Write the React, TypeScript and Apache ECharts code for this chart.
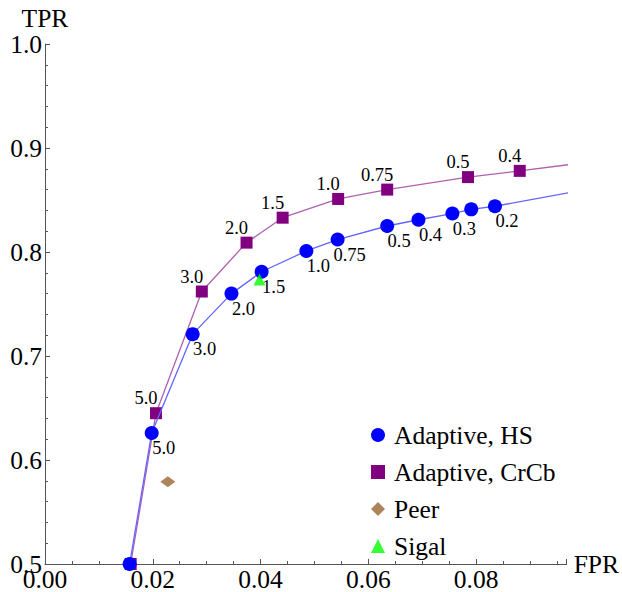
import React, { useEffect, useRef } from "react";
import * as echarts from "echarts";

// Adaptive, HS
const hsFPR = [0.0157, 0.0198, 0.0274, 0.0346, 0.0402, 0.0485, 0.0543, 0.0635, 0.0693, 0.0756, 0.0791, 0.0835, 0.0972];
const hsTPR = [0.500, 0.626, 0.721, 0.760, 0.781, 0.801, 0.812, 0.825, 0.831, 0.837, 0.841, 0.844, 0.857];
const hsLabels = ["", "5.0", "3.0", "2.0", "1.5", "1.0", "0.75", "0.5", "0.4", "0.3", "", "0.2", ""];

// Adaptive, CrCb
const crFPR = [0.0159, 0.0206, 0.0291, 0.0374, 0.0441, 0.0544, 0.0635, 0.0785, 0.0881, 0.0972];
const crTPR = [0.500, 0.645, 0.762, 0.809, 0.833, 0.851, 0.860, 0.872, 0.878, 0.884];
const crLabels = ["", "5.0", "3.0", "2.0", "1.5", "1.0", "0.75", "0.5", "0.4", ""];

// Peer
const peerFPR = [0.0228, 0.0972];
const peerTPR = [0.579, 0.899];

// Sigal
const sigalFPR = [0.0398];
const sigalTPR = [0.7735];

const seriesNames = ["Adaptive, HS", "Adaptive, CrCb", "Peer", "Sigal"];

const FONT = "'Liberation Serif', 'Times New Roman', serif";

export default function App() {
  const ref = useRef<HTMLDivElement>(null);
  useEffect(() => {
    if (!ref.current) return;
    document.body.style.margin = "0";
    const chart = echarts.init(ref.current, undefined, { renderer: "svg" });
    const zip = (xs: number[], ys: number[]) => xs.map((x, i) => [x, ys[i]]);
    const labelStyle = { fontFamily: FONT, fontSize: 18.5, color: "#000" };
    chart.setOption({
      animation: false,
      textStyle: { fontFamily: FONT },
      grid: { left: 45, top: 44, right: 54, bottom: 27, containLabel: false },
      xAxis: {
        type: "value",
        min: 0,
        max: 0.0968,
        interval: 0.02,
        name: "FPR",
        nameLocation: "end",
        nameGap: 7,
        nameTextStyle: { fontFamily: FONT, fontSize: 25.5, color: "#000", verticalAlign: "middle" },
        axisLine: { show: true, lineStyle: { color: "#555", width: 1 } },
        axisTick: { show: true, inside: true, length: 5, lineStyle: { color: "#555" } },
        minorTick: { show: true, splitNumber: 4, length: 3, lineStyle: { color: "#555" } },
        splitLine: { show: false },
        axisLabel: {
          fontFamily: FONT,
          fontSize: 25.5,
          color: "#000",
          margin: 2,
          showMaxLabel: false,
          formatter: (v: number) => v.toFixed(2),
        },
      },
      yAxis: {
        type: "value",
        min: 0.5,
        max: 1.0,
        interval: 0.1,
        name: "TPR",
        nameLocation: "end",
        nameGap: 2,
        nameTextStyle: { fontFamily: FONT, fontSize: 25.5, color: "#000", align: "center" },
        axisLine: { show: true, lineStyle: { color: "#555", width: 1 } },
        axisTick: { show: true, inside: true, length: 5, lineStyle: { color: "#555" } },
        minorTick: { show: true, splitNumber: 5, length: 3, lineStyle: { color: "#555" } },
        splitLine: { show: false },
        axisLabel: {
          fontFamily: FONT,
          fontSize: 25.5,
          color: "#000",
          margin: 3,
          formatter: (v: number) => v.toFixed(1),
        },
      },
      legend: {
        orient: "vertical",
        left: 366,
        top: 417,
        itemGap: 11,
        itemWidth: 14,
        itemHeight: 14,
        textStyle: { fontFamily: FONT, fontSize: 25.5, color: "#000", padding: [0, 0, 0, 4] },
        data: [
          { name: seriesNames[0], icon: "circle" },
          { name: seriesNames[1], icon: "rect" },
          { name: seriesNames[2], icon: "diamond" },
          { name: seriesNames[3], icon: "triangle" },
        ],
      },
      series: [
        {
          name: seriesNames[1],
          type: "line",
          clip: true,
          data: zip(crFPR, crTPR),
          symbol: "rect",
          symbolSize: 12,
          itemStyle: { color: "#800080" },
          lineStyle: { color: "#b060b0", width: 1.3 },
          label: {
            show: true,
            position: "inside",
            offset: [-10, -15],
            ...labelStyle,
            formatter: (p: any) => crLabels[p.dataIndex],
          },
          z: 2,
        },
        {
          name: seriesNames[0],
          type: "line",
          clip: true,
          data: zip(hsFPR, hsTPR),
          symbol: "circle",
          symbolSize: 14,
          itemStyle: { color: "#0000ff" },
          lineStyle: { color: "#6464ff", width: 1.3 },
          label: {
            show: true,
            position: "inside",
            offset: [12, 15],
            ...labelStyle,
            formatter: (p: any) => hsLabels[p.dataIndex],
          },
          z: 3,
        },
        {
          name: seriesNames[2],
          type: "scatter",
          clip: true,
          data: zip(peerFPR, peerTPR),
          symbol: "diamond",
          symbolSize: [15, 11],
          itemStyle: { color: "#996633" },
          z: 4,
        },
        {
          name: seriesNames[3],
          type: "scatter",
          clip: true,
          data: zip(sigalFPR, sigalTPR),
          symbol: "triangle",
          symbolSize: 12,
          itemStyle: { color: "#00ff00" },
          z: 5,
        },
      ],
    });
    return () => chart.dispose();
  }, []);
  return <div ref={ref} style={{ width: 622, height: 592 }} />;
}
